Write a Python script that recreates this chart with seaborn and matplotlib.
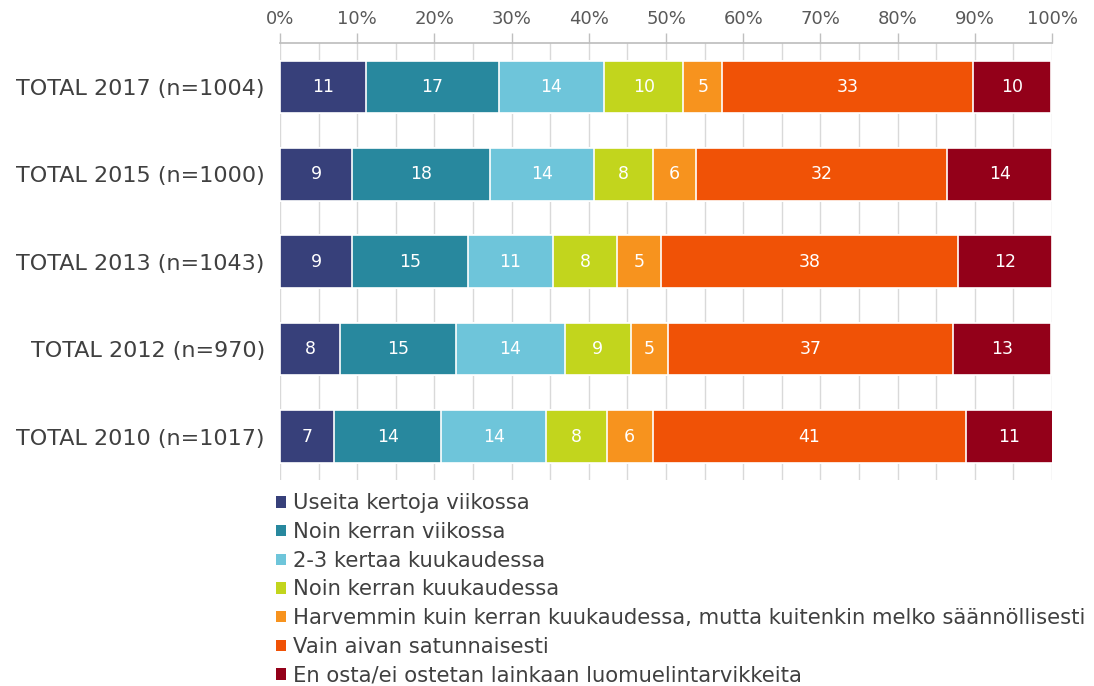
import numpy as np
import pandas as pd
import matplotlib
matplotlib.use("Agg")
import matplotlib.pyplot as plt
from matplotlib.patches import Patch
from matplotlib.ticker import MultipleLocator, FuncFormatter
import seaborn as sns

# =============================
# DATA
# =============================
groups = ["TOTAL 2017 (n=1004)", "TOTAL 2015 (n=1000)", "TOTAL 2013 (n=1043)",
          "TOTAL 2012 (n=970)", "TOTAL 2010 (n=1017)"]

series = ["Useita kertoja viikossa",
          "Noin kerran viikossa",
          "2-3 kertaa kuukaudessa",
          "Noin kerran kuukaudessa",
          "Harvemmin kuin kerran kuukaudessa, mutta kuitenkin melko säännöllisesti",
          "Vain aivan satunnaisesti",
          "En osta/ei ostetan lainkaan luomuelintarvikkeita"]

# shares (%) per group
useita = [11.1, 9.3, 9.3, 7.8, 7.0]
kerran_vko = [17.2, 17.9, 15.0, 15.0, 13.9]
kertaa_23 = [13.7, 13.5, 11.0, 14.1, 13.6]
kerran_kk = [10.2, 7.6, 8.4, 8.5, 7.8]
harvemmin = [5.1, 5.6, 5.6, 4.9, 6.0]
satunnaisesti = [32.5, 32.5, 38.5, 36.8, 40.5]
en_osta = [10.1, 13.6, 12.2, 12.8, 11.3]

# labels printed on the bars
labels = [[11, 9, 9, 8, 7],
          [17, 18, 15, 15, 14],
          [14, 14, 11, 14, 14],
          [10, 8, 8, 9, 8],
          [5, 6, 5, 5, 6],
          [33, 32, 38, 37, 41],
          [10, 14, 12, 13, 11]]

colors = ["#37407A", "#28889E", "#6EC5DA", "#C2D51D", "#F7931E", "#F05206", "#930019"]

values = [useita, kerran_vko, kertaa_23, kerran_kk, harvemmin, satunnaisesti, en_osta]

# =============================
# PLOT
# =============================
sns.set_theme(style="white")
plt.rcParams["font.family"] = ["DejaVu Sans"]

fig = plt.figure(figsize=(10.94, 6.86), dpi=100)
ax = fig.add_axes([0.256, 0.300, 0.7057, 0.637])

df = pd.DataFrame(np.array(values).T, columns=series)
df["group"] = groups
cum = df[series].cumsum(axis=1)

# draw cumulative bars from the largest down, so each one overlays the previous
for i in range(len(series) - 1, -1, -1):
    sns.barplot(x=cum[series[i]], y=df["group"], orient="h", color=colors[i],
                saturation=1, width=0.6, edgecolor="white", linewidth=1.2,
                ax=ax, zorder=2)

# segment labels
for i, s in enumerate(series):
    mids = cum[s] - df[s] / 2
    for j in range(len(groups)):
        ax.text(mids[j], j, str(labels[i][j]), ha="center", va="center",
                color="white", fontsize=12.5, zorder=3)

ax.set_xlim(0, 100)
ax.set_ylim(4.5, -0.5)
ax.xaxis.tick_top()
ax.xaxis.set_major_locator(MultipleLocator(10))
ax.xaxis.set_minor_locator(MultipleLocator(5))
ax.xaxis.set_major_formatter(FuncFormatter(lambda v, p: f"{v:.0f}%"))
ax.grid(axis="x", which="both", color="#D9D9D9", linewidth=1, zorder=0)
ax.set_axisbelow(True)
ax.tick_params(axis="x", which="major", top=True, length=7, width=1,
               color="#BFBFBF", labelsize=13, labelcolor="#595959", pad=4)
ax.tick_params(axis="x", which="minor", top=False, length=0)
ax.tick_params(axis="y", left=False, labelsize=16, labelcolor="#404040", pad=5)
ax.set_xlabel("")
ax.set_ylabel("")
for side in ["left", "right", "bottom"]:
    ax.spines[side].set_visible(False)
ax.spines["top"].set_color("#BFBFBF")

handles = [Patch(facecolor=c, edgecolor="none") for c in colors]
fig.legend(handles, series, loc="upper left", bbox_to_anchor=(0.245, 1 - 485 / 686),
           frameon=False, fontsize=15.2, handlelength=0.45, handleheight=0.45,
           handletextpad=0.35, labelspacing=0.41, borderaxespad=0,
           labelcolor="#404040")

plt.savefig("out.png", dpi=100)
plt.close()
